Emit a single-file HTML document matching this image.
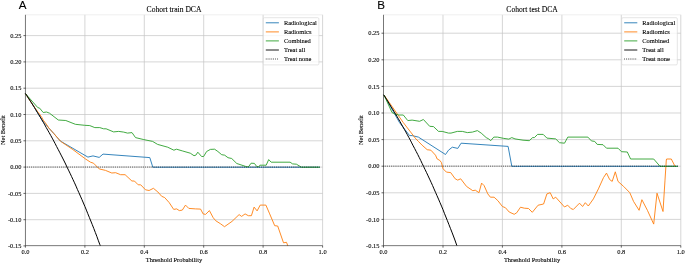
<!DOCTYPE html>
<html><head><meta charset="utf-8"><title>DCA</title>
<style>html,body{margin:0;padding:0;background:#fff}svg{display:block;will-change:transform}text{font-family:"Liberation Serif",serif;fill:#000;stroke:#000;stroke-width:0.1px}</style>
</head><body>
<svg width="685" height="264" viewBox="0 0 685 264">
<rect width="685" height="264" fill="#fff"/>
<line x1="84.9" y1="14.8" x2="84.9" y2="245.65" stroke="#c4c4c4" stroke-width="0.7"/>
<line x1="144.3" y1="14.8" x2="144.3" y2="245.65" stroke="#c4c4c4" stroke-width="0.7"/>
<line x1="203.7" y1="14.8" x2="203.7" y2="245.65" stroke="#c4c4c4" stroke-width="0.7"/>
<line x1="263.1" y1="14.8" x2="263.1" y2="245.65" stroke="#c4c4c4" stroke-width="0.7"/>
<line x1="322.6" y1="14.8" x2="322.6" y2="245.65" stroke="#c4c4c4" stroke-width="0.7"/>
<line x1="25.45" y1="219.7" x2="322.6" y2="219.7" stroke="#c4c4c4" stroke-width="0.7"/>
<line x1="25.45" y1="193.4" x2="322.6" y2="193.4" stroke="#c4c4c4" stroke-width="0.7"/>
<line x1="25.45" y1="167.1" x2="322.6" y2="167.1" stroke="#c4c4c4" stroke-width="0.7"/>
<line x1="25.45" y1="140.8" x2="322.6" y2="140.8" stroke="#c4c4c4" stroke-width="0.7"/>
<line x1="25.45" y1="114.5" x2="322.6" y2="114.5" stroke="#c4c4c4" stroke-width="0.7"/>
<line x1="25.45" y1="88.2" x2="322.6" y2="88.2" stroke="#c4c4c4" stroke-width="0.7"/>
<line x1="25.45" y1="61.9" x2="322.6" y2="61.9" stroke="#c4c4c4" stroke-width="0.7"/>
<line x1="25.45" y1="35.6" x2="322.6" y2="35.6" stroke="#c4c4c4" stroke-width="0.7"/>
<line x1="25.45" y1="14.8" x2="322.6" y2="14.8" stroke="#e4e4e4" stroke-width="0.6"/>
<polyline points="25.4,93.6 33.1,105.3 40.3,117.2 42.7,121.1 45.8,124.3 48.9,128.1 53.7,133.4 60.3,141.0 87.9,157.1 93.0,155.9 99.2,157.4 103.0,154.1 149.8,157.6 152.8,167.2 319.8,167.2" fill="none" stroke="#1f77b4" stroke-width="0.9" stroke-linejoin="round"/>
<polyline points="25.4,93.6 33.0,105.2 37.6,111.6 41.4,116.7 43.3,120.2 46.1,123.9 48.9,128.1 53.7,133.4 60.3,141.0 61.6,142.0 72.9,149.6 85.4,158.9 90.5,162.2 93.5,163.2 99.2,168.9 105.5,170.4 111.8,173.0 115.6,172.7 120.6,174.7 125.1,174.7 131.9,181.0 134.4,181.0 138.2,184.8 140.7,184.8 145.5,189.8 149.1,190.5 153.4,188.3 157.9,192.0 161.7,196.3 164.7,197.6 169.2,202.6 173.7,209.4 176.7,208.9 179.3,210.6 182.3,210.1 185.5,205.1 188.8,208.4 195.6,208.9 200.6,209.1 203.1,213.9 205.6,214.4 209.4,210.6 213.2,217.7 215.7,220.7 220.7,223.9 224.5,226.7 232.0,221.4 239.1,214.6 241.6,216.4 245.1,213.9 248.3,215.7 251.4,215.7 254.1,207.1 257.1,210.9 260.2,205.1 265.9,205.1 269.7,213.9 274.7,225.7 277.7,226.0 283.5,242.8 286.5,242.3 287.8,245.8" fill="none" stroke="#ff7f0e" stroke-width="0.9" stroke-linejoin="round"/>
<polyline points="25.4,93.6 37.7,107.5 39.7,108.2 43.2,112.5 46.5,112.0 49.5,113.2 58.3,120.0 65.8,120.5 75.4,124.3 84.7,125.3 89.8,125.6 94.8,127.6 99.8,127.6 103.6,128.8 106.1,128.8 113.6,131.9 118.7,131.4 123.7,132.1 127.5,133.1 132.0,132.6 135.5,137.6 143.8,139.6 152.6,141.4 157.6,144.4 167.7,147.2 173.9,150.2 176.5,149.2 182.7,151.0 190.3,153.2 194.0,155.7 195.8,155.2 197.8,152.2 201.6,156.5 203.6,156.5 206.6,151.5 210.4,149.4 214.6,149.2 217.9,151.5 221.7,154.7 224.7,155.2 228.0,157.7 231.7,158.5 236.8,163.5 246.8,166.8 248.6,166.7 251.1,163.2 254.4,163.4 256.9,166.7 258.7,166.7 259.9,165.2 266.2,165.2 268.7,159.6 271.2,162.2 290.1,162.2 292.6,163.9 296.4,164.2 301.4,167.2 319.8,167.2" fill="none" stroke="#2ca02c" stroke-width="0.9" stroke-linejoin="round"/>
<polyline points="25.4,93.4 26.9,95.7 28.4,98.0 29.9,100.3 31.4,102.6 32.9,105.0 34.4,107.4 35.8,109.8 37.3,112.3 38.8,114.7 40.3,117.2 41.8,119.7 43.3,122.3 44.8,124.9 46.2,127.5 47.7,130.1 49.2,132.7 50.7,135.4 52.2,138.1 53.7,140.9 55.2,143.7 56.6,146.5 58.1,149.3 59.6,152.2 61.1,155.1 62.6,158.0 64.1,161.0 65.6,164.0 67.0,167.1 68.5,170.1 70.0,173.2 71.5,176.4 73.0,179.6 74.5,182.8 76.0,186.1 77.4,189.4 78.9,192.7 80.4,196.1 81.9,199.5 83.4,203.0 84.9,206.5 86.4,210.1 87.8,213.7 89.3,217.3 90.8,221.0 92.3,224.7 93.8,228.5 95.3,232.4 96.8,236.3 98.2,240.2 99.7,244.2 100.3,245.7" fill="none" stroke="#000" stroke-width="1.0"/>
<line x1="25.45" y1="167.05" x2="319.6" y2="167.05" stroke="#000" stroke-width="0.8" stroke-dasharray="0.75 1.12"/>
<line x1="25.45" y1="14.8" x2="25.45" y2="245.65" stroke="#222" stroke-width="0.62"/>
<line x1="25.45" y1="245.65" x2="322.6" y2="245.65" stroke="#222" stroke-width="0.62"/>
<line x1="25.4" y1="245.65" x2="25.4" y2="247.65" stroke="#000" stroke-width="0.6"/>
<text x="25.4" y="254.4" text-anchor="middle" font-size="6.45">0.0</text>
<line x1="84.9" y1="245.65" x2="84.9" y2="247.65" stroke="#000" stroke-width="0.6"/>
<text x="84.9" y="254.4" text-anchor="middle" font-size="6.45">0.2</text>
<line x1="144.3" y1="245.65" x2="144.3" y2="247.65" stroke="#000" stroke-width="0.6"/>
<text x="144.3" y="254.4" text-anchor="middle" font-size="6.45">0.4</text>
<line x1="203.7" y1="245.65" x2="203.7" y2="247.65" stroke="#000" stroke-width="0.6"/>
<text x="203.7" y="254.4" text-anchor="middle" font-size="6.45">0.6</text>
<line x1="263.1" y1="245.65" x2="263.1" y2="247.65" stroke="#000" stroke-width="0.6"/>
<text x="263.1" y="254.4" text-anchor="middle" font-size="6.45">0.8</text>
<line x1="322.6" y1="245.65" x2="322.6" y2="247.65" stroke="#000" stroke-width="0.6"/>
<text x="322.6" y="254.4" text-anchor="middle" font-size="6.45">1.0</text>
<line x1="23.45" y1="245.9" x2="25.45" y2="245.9" stroke="#000" stroke-width="0.6"/>
<text x="21.4" y="248.0" text-anchor="end" font-size="6.45">-0.15</text>
<line x1="23.45" y1="219.7" x2="25.45" y2="219.7" stroke="#000" stroke-width="0.6"/>
<text x="21.4" y="221.8" text-anchor="end" font-size="6.45">-0.10</text>
<line x1="23.45" y1="193.4" x2="25.45" y2="193.4" stroke="#000" stroke-width="0.6"/>
<text x="21.4" y="195.5" text-anchor="end" font-size="6.45">-0.05</text>
<line x1="23.45" y1="167.1" x2="25.45" y2="167.1" stroke="#000" stroke-width="0.6"/>
<text x="21.4" y="169.2" text-anchor="end" font-size="6.45">0.00</text>
<line x1="23.45" y1="140.8" x2="25.45" y2="140.8" stroke="#000" stroke-width="0.6"/>
<text x="21.4" y="142.8" text-anchor="end" font-size="6.45">0.05</text>
<line x1="23.45" y1="114.5" x2="25.45" y2="114.5" stroke="#000" stroke-width="0.6"/>
<text x="21.4" y="116.6" text-anchor="end" font-size="6.45">0.10</text>
<line x1="23.45" y1="88.2" x2="25.45" y2="88.2" stroke="#000" stroke-width="0.6"/>
<text x="21.4" y="90.3" text-anchor="end" font-size="6.45">0.15</text>
<line x1="23.45" y1="61.9" x2="25.45" y2="61.9" stroke="#000" stroke-width="0.6"/>
<text x="21.4" y="64.0" text-anchor="end" font-size="6.45">0.20</text>
<line x1="23.45" y1="35.6" x2="25.45" y2="35.6" stroke="#000" stroke-width="0.6"/>
<text x="21.4" y="37.7" text-anchor="end" font-size="6.45">0.25</text>
<text x="174.0" y="11.9" text-anchor="middle" font-size="7.6">Cohort train DCA</text>
<text x="174.0" y="261.9" text-anchor="middle" font-size="6.45">Threshold Probability</text>
<text transform="translate(4.9,130.2) rotate(-90)" text-anchor="middle" font-size="6.45">Net Benefit</text>
<text x="18.8" y="9.4" font-size="11.6" style="font-family:'Liberation Sans',sans-serif">A</text>
<rect x="263.3" y="17.7" width="55.6" height="47.2" rx="1.2" fill="#fff" fill-opacity="0.8" stroke="#d4d4d4" stroke-width="0.6"/>
<line x1="265.8" y1="22.8" x2="278.9" y2="22.8" stroke="#1f77b4" stroke-width="0.9"/>
<text x="283.9" y="24.9" font-size="6.45">Radiological</text>
<line x1="265.8" y1="31.9" x2="278.9" y2="31.9" stroke="#ff7f0e" stroke-width="0.9"/>
<text x="283.9" y="34.0" font-size="6.45">Radiomics</text>
<line x1="265.8" y1="40.9" x2="278.9" y2="40.9" stroke="#2ca02c" stroke-width="0.9"/>
<text x="283.9" y="43.0" font-size="6.45">Combined</text>
<line x1="265.8" y1="50.0" x2="278.9" y2="50.0" stroke="#000" stroke-width="0.9"/>
<text x="283.9" y="52.1" font-size="6.45">Treat all</text>
<line x1="265.8" y1="59.0" x2="278.9" y2="59.0" stroke="#000" stroke-width="0.9" stroke-dasharray="0.75 1.12"/>
<text x="283.9" y="61.1" font-size="6.45">Treat none</text>
<line x1="443.0" y1="14.8" x2="443.0" y2="245.65" stroke="#c4c4c4" stroke-width="0.7"/>
<line x1="502.4" y1="14.8" x2="502.4" y2="245.65" stroke="#c4c4c4" stroke-width="0.7"/>
<line x1="561.9" y1="14.8" x2="561.9" y2="245.65" stroke="#c4c4c4" stroke-width="0.7"/>
<line x1="621.3" y1="14.8" x2="621.3" y2="245.65" stroke="#c4c4c4" stroke-width="0.7"/>
<line x1="680.8" y1="14.8" x2="680.8" y2="245.65" stroke="#c4c4c4" stroke-width="0.7"/>
<line x1="383.5" y1="219.4" x2="680.8" y2="219.4" stroke="#c4c4c4" stroke-width="0.7"/>
<line x1="383.5" y1="192.8" x2="680.8" y2="192.8" stroke="#c4c4c4" stroke-width="0.7"/>
<line x1="383.5" y1="166.2" x2="680.8" y2="166.2" stroke="#c4c4c4" stroke-width="0.7"/>
<line x1="383.5" y1="139.6" x2="680.8" y2="139.6" stroke="#c4c4c4" stroke-width="0.7"/>
<line x1="383.5" y1="113.0" x2="680.8" y2="113.0" stroke="#c4c4c4" stroke-width="0.7"/>
<line x1="383.5" y1="86.4" x2="680.8" y2="86.4" stroke="#c4c4c4" stroke-width="0.7"/>
<line x1="383.5" y1="59.8" x2="680.8" y2="59.8" stroke="#c4c4c4" stroke-width="0.7"/>
<line x1="383.5" y1="33.2" x2="680.8" y2="33.2" stroke="#c4c4c4" stroke-width="0.7"/>
<line x1="383.5" y1="14.8" x2="680.8" y2="14.8" stroke="#e4e4e4" stroke-width="0.6"/>
<polyline points="384.0,95.0 399.5,122.6 409.6,135.6 412.1,135.6 418.4,137.1 445.5,154.5 448.5,150.2 452.3,147.2 457.8,148.4 461.1,143.2 508.1,146.4 511.8,166.3 677.8,166.3" fill="none" stroke="#1f77b4" stroke-width="0.9" stroke-linejoin="round"/>
<polyline points="384.0,95.0 394.5,110.0 403.3,122.6 415.9,138.9 418.4,141.4 422.1,145.2 427.2,149.7 430.9,150.2 435.5,155.2 437.2,159.0 439.7,160.3 441.4,162.5 443.1,168.8 446.4,172.1 450.7,172.6 455.2,178.8 457.7,180.1 460.7,178.8 466.5,186.4 472.8,190.7 475.3,190.2 479.0,192.7 481.6,183.1 484.1,185.6 487.8,193.9 490.4,197.2 494.1,197.2 497.9,200.7 502.4,206.5 505.4,207.7 509.2,212.0 514.2,214.3 516.7,212.8 520.5,207.2 524.3,208.2 528.5,208.5 532.3,212.3 538.1,205.2 543.6,204.0 546.9,193.9 550.2,192.7 553.2,198.9 555.7,197.2 564.5,207.0 567.7,205.2 570.8,208.5 573.3,209.5 579.5,203.2 582.6,206.5 585.3,202.7 588.3,206.0 593.4,198.9 598.4,188.9 603.5,177.6 606.5,173.1 609.7,179.6 612.2,181.4 615.3,171.8 618.0,181.4 623.6,186.4 629.8,192.7 633.6,201.5 639.1,210.3 641.9,199.7 647.4,210.3 653.7,224.1 657.0,193.2 663.0,211.5 665.0,180.1 666.3,160.0 666.6,159.0 671.3,159.0 675.0,166.3" fill="none" stroke="#ff7f0e" stroke-width="0.9" stroke-linejoin="round"/>
<polyline points="384.0,95.0 392.0,112.5 394.5,113.8 398.8,115.0 403.3,115.0 407.8,120.6 412.1,120.1 419.6,121.3 423.4,119.5 429.7,126.3 433.5,126.6 438.5,131.4 442.2,131.4 448.5,133.1 451.0,133.1 457.3,131.4 462.3,131.4 467.4,132.6 472.4,132.1 477.4,130.6 481.2,133.1 486.2,137.6 488.7,138.9 490.7,140.7 493.8,137.1 497.5,137.1 503.8,138.4 508.8,139.1 511.8,137.6 515.0,138.9 523.0,140.2 529.3,140.7 532.6,137.6 534.4,137.6 537.6,134.4 543.2,134.4 546.9,138.1 555.7,138.9 559.5,142.7 564.5,143.2 567.8,137.1 587.9,137.1 591.4,140.9 594.7,141.4 597.2,144.4 603.0,144.7 606.5,148.2 618.0,148.2 621.5,151.7 627.3,152.0 630.6,159.0 653.7,159.0 660.0,166.3 677.8,166.3" fill="none" stroke="#2ca02c" stroke-width="0.9" stroke-linejoin="round"/>
<polyline points="383.5,94.6 385.0,96.9 386.5,99.2 388.0,101.6 389.4,104.0 390.9,106.4 392.4,108.8 393.9,111.3 395.4,113.8 396.9,116.3 398.4,118.8 399.9,121.4 401.3,124.0 402.8,126.6 404.3,129.3 405.8,131.9 407.3,134.6 408.8,137.4 410.3,140.1 411.7,142.9 413.2,145.8 414.7,148.6 416.2,151.5 417.7,154.4 419.2,157.4 420.7,160.4 422.1,163.4 423.6,166.5 425.1,169.6 426.6,172.7 428.1,175.9 429.6,179.1 431.1,182.3 432.6,185.6 434.0,188.9 435.5,192.3 437.0,195.7 438.5,199.1 440.0,202.6 441.5,206.1 443.0,209.7 444.4,213.3 445.9,217.0 447.4,220.7 448.9,224.5 450.4,228.3 451.9,232.1 453.4,236.0 454.9,240.0 456.3,244.0 456.9,245.7" fill="none" stroke="#000" stroke-width="1.0"/>
<line x1="383.5" y1="166.15" x2="677.8" y2="166.15" stroke="#000" stroke-width="0.8" stroke-dasharray="0.75 1.12"/>
<line x1="383.5" y1="14.8" x2="383.5" y2="245.65" stroke="#222" stroke-width="0.62"/>
<line x1="383.5" y1="245.65" x2="680.8" y2="245.65" stroke="#222" stroke-width="0.62"/>
<line x1="383.5" y1="245.65" x2="383.5" y2="247.65" stroke="#000" stroke-width="0.6"/>
<text x="383.5" y="254.4" text-anchor="middle" font-size="6.45">0.0</text>
<line x1="443.0" y1="245.65" x2="443.0" y2="247.65" stroke="#000" stroke-width="0.6"/>
<text x="443.0" y="254.4" text-anchor="middle" font-size="6.45">0.2</text>
<line x1="502.4" y1="245.65" x2="502.4" y2="247.65" stroke="#000" stroke-width="0.6"/>
<text x="502.4" y="254.4" text-anchor="middle" font-size="6.45">0.4</text>
<line x1="561.9" y1="245.65" x2="561.9" y2="247.65" stroke="#000" stroke-width="0.6"/>
<text x="561.9" y="254.4" text-anchor="middle" font-size="6.45">0.6</text>
<line x1="621.3" y1="245.65" x2="621.3" y2="247.65" stroke="#000" stroke-width="0.6"/>
<text x="621.3" y="254.4" text-anchor="middle" font-size="6.45">0.8</text>
<line x1="680.8" y1="245.65" x2="680.8" y2="247.65" stroke="#000" stroke-width="0.6"/>
<text x="680.8" y="254.4" text-anchor="middle" font-size="6.45">1.0</text>
<line x1="381.5" y1="245.9" x2="383.5" y2="245.9" stroke="#000" stroke-width="0.6"/>
<text x="379.5" y="248.0" text-anchor="end" font-size="6.45">-0.15</text>
<line x1="381.5" y1="219.4" x2="383.5" y2="219.4" stroke="#000" stroke-width="0.6"/>
<text x="379.5" y="221.5" text-anchor="end" font-size="6.45">-0.10</text>
<line x1="381.5" y1="192.8" x2="383.5" y2="192.8" stroke="#000" stroke-width="0.6"/>
<text x="379.5" y="194.8" text-anchor="end" font-size="6.45">-0.05</text>
<line x1="381.5" y1="166.2" x2="383.5" y2="166.2" stroke="#000" stroke-width="0.6"/>
<text x="379.5" y="168.2" text-anchor="end" font-size="6.45">0.00</text>
<line x1="381.5" y1="139.6" x2="383.5" y2="139.6" stroke="#000" stroke-width="0.6"/>
<text x="379.5" y="141.7" text-anchor="end" font-size="6.45">0.05</text>
<line x1="381.5" y1="113.0" x2="383.5" y2="113.0" stroke="#000" stroke-width="0.6"/>
<text x="379.5" y="115.0" text-anchor="end" font-size="6.45">0.10</text>
<line x1="381.5" y1="86.4" x2="383.5" y2="86.4" stroke="#000" stroke-width="0.6"/>
<text x="379.5" y="88.5" text-anchor="end" font-size="6.45">0.15</text>
<line x1="381.5" y1="59.8" x2="383.5" y2="59.8" stroke="#000" stroke-width="0.6"/>
<text x="379.5" y="61.9" text-anchor="end" font-size="6.45">0.20</text>
<line x1="381.5" y1="33.2" x2="383.5" y2="33.2" stroke="#000" stroke-width="0.6"/>
<text x="379.5" y="35.3" text-anchor="end" font-size="6.45">0.25</text>
<text x="532.1" y="11.9" text-anchor="middle" font-size="7.6">Cohort test DCA</text>
<text x="532.1" y="261.9" text-anchor="middle" font-size="6.45">Threshold Probability</text>
<text transform="translate(363.0,130.2) rotate(-90)" text-anchor="middle" font-size="6.45">Net Benefit</text>
<text x="377.3" y="9.4" font-size="11.6" style="font-family:'Liberation Sans',sans-serif">B</text>
<rect x="621.7" y="17.7" width="55.6" height="47.2" rx="1.2" fill="#fff" fill-opacity="0.8" stroke="#d4d4d4" stroke-width="0.6"/>
<line x1="624.2" y1="22.8" x2="637.3" y2="22.8" stroke="#1f77b4" stroke-width="0.9"/>
<text x="642.3" y="24.9" font-size="6.45">Radiological</text>
<line x1="624.2" y1="31.9" x2="637.3" y2="31.9" stroke="#ff7f0e" stroke-width="0.9"/>
<text x="642.3" y="34.0" font-size="6.45">Radiomics</text>
<line x1="624.2" y1="40.9" x2="637.3" y2="40.9" stroke="#2ca02c" stroke-width="0.9"/>
<text x="642.3" y="43.0" font-size="6.45">Combined</text>
<line x1="624.2" y1="50.0" x2="637.3" y2="50.0" stroke="#000" stroke-width="0.9"/>
<text x="642.3" y="52.1" font-size="6.45">Treat all</text>
<line x1="624.2" y1="59.0" x2="637.3" y2="59.0" stroke="#000" stroke-width="0.9" stroke-dasharray="0.75 1.12"/>
<text x="642.3" y="61.1" font-size="6.45">Treat none</text>
</svg>
</body></html>
